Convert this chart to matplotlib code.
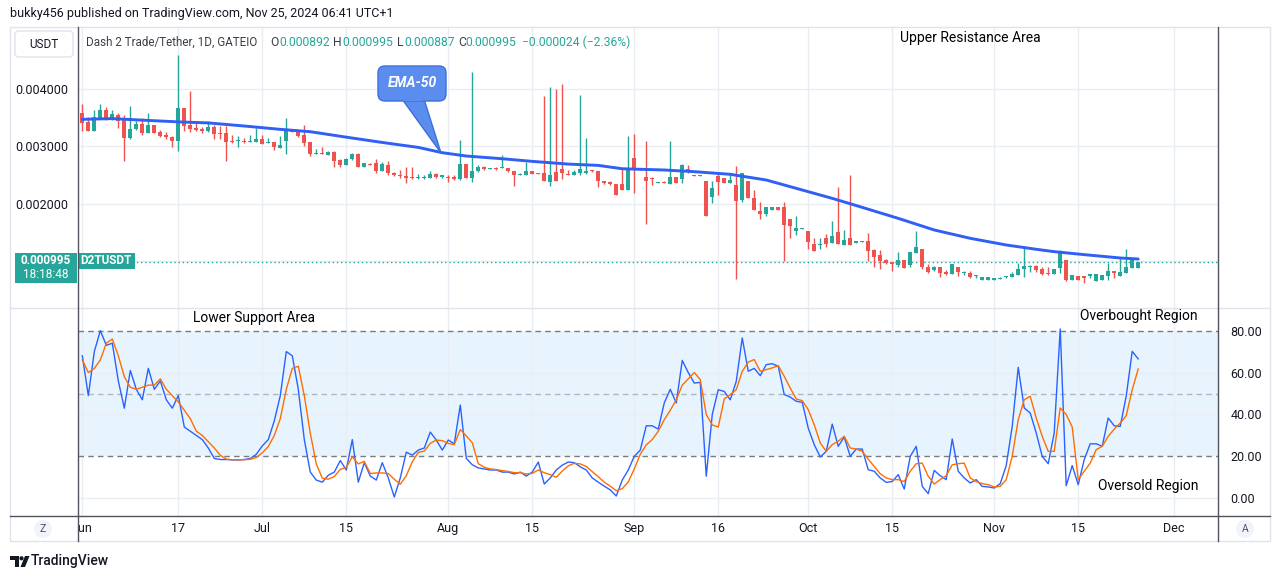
import numpy as np
import matplotlib
matplotlib.use("Agg")
import matplotlib.pyplot as plt
from matplotlib.patches import FancyBboxPatch, Polygon, Rectangle, Circle

plt.rcParams['font.family'] = ['Roboto', 'DejaVu Sans']

W, H = 1281, 579

# Daily D2T/USDT candles, bar 0 = Jun 1 (one bar missing mid-Sep), prices in 1e-6 USDT
opens = [3582, 3431, 3274, 3489, 3634, 3477, 3547, 3472, 3153, 3303,
         3390, 3240, 3373, 3251, 3199, 3164, 3100, 3669, 3373, 3321,
         3309, 3269, 3332, 3240, 3234, 3100, 3089, 3100, 3071, 3083,
         3129, 3054, 3077, 2979, 3100, 3280, 3263, 3199, 3077, 2874,
         2886, 2857, 2903, 2764, 2677, 2776, 2868, 2648, 2694, 2706,
         2578, 2683, 2544, 2509, 2486, 2474, 2451, 2457, 2451, 2520,
         2474, 2474, 2474, 2428, 2694, 2451, 2567, 2648, 2607, 2625,
         2619, 2625, 2578, 2509, 2509, 2573, 2532, 2544, 2381, 2555,
         2602, 2520, 2509, 2544, 2532, 2578, 2567, 2393, 2381, 2346,
         2346, 2242, 2799, 2613, 2469, 2440, 2371, 2371, 2353, 2469,
         2440, 2603, 2504, 2492, 2400, 2127, 2487, 2452, 2371, 2330,
         2069, 2400, 2104, 1883, 1831, 1901, 1941, 1941, 1733, 1535,
         1570, 1530, 1298, 1291, 1408, 1327, 1512, 1292, 1408, 1327,
         1344, 1350, 1199, 1112, 1025, 996, 944, 1026, 945, 1153,
         1217, 910, 852, 904, 823, 782, 904, 794, 806, 753,
         678, 678, 684, 701, 724, 724, 771, 875, 910, 916,
         869, 806, 782, 893, 1026, 678, 753, 748, 748, 666,
         678, 748, 835, 748, 806, 893, 892]
highs = [3738, 3518, 3634, 3738, 3686, 3634, 3576, 3547, 3704, 3448,
         3489, 3582, 3373, 3286, 3245, 3182, 4591, 3669, 3965, 3402,
         3344, 3443, 3379, 3356, 3356, 3199, 3182, 3141, 3199, 3327,
         3199, 3147, 3077, 3182, 3489, 3303, 3286, 3367, 3077, 2955,
         2990, 2921, 2921, 2776, 2793, 2892, 2880, 2712, 2706, 2787,
         2729, 2752, 2561, 2590, 2636, 2648, 2520, 2509, 2578, 2532,
         2509, 2497, 2497, 3112, 2694, 4295, 2683, 2660, 2625, 2648,
         2851, 2625, 2578, 2532, 2729, 2578, 2538, 3878, 4028, 3994,
         4086, 2590, 2590, 3901, 3147, 2584, 2567, 2404, 2393, 2346,
         2602, 3181, 3216, 2619, 3096, 2475, 2388, 2394, 3100, 2475,
         2690, 2672, 2504, 2498, 2400, 2400, 2533, 2458, 2533, 2661,
         2533, 2400, 2243, 2034, 1941, 1941, 1941, 2040, 1733, 1791,
         1582, 1530, 1402, 1402, 1477, 1704, 2301, 1547, 2504, 1361,
         1356, 1489, 1222, 1199, 1037, 996, 1164, 1026, 1165, 1531,
         1217, 956, 922, 904, 852, 956, 904, 840, 829, 765,
         724, 724, 713, 736, 742, 823, 980, 1270, 939, 933,
         898, 904, 869, 1200, 1026, 765, 753, 748, 782, 777,
         765, 980, 835, 1061, 1217, 1026, 995]
lows = [3274, 3268, 3268, 3489, 3460, 3460, 3327, 2752, 3135, 3286,
        3199, 3240, 3240, 3170, 3129, 2996, 2926, 3274, 3245, 3269,
        3228, 3245, 3135, 3124, 2752, 3054, 2996, 3054, 3071, 3071,
        3048, 3054, 2938, 2979, 2874, 3257, 3170, 3013, 2839, 2874,
        2874, 2857, 2648, 2636, 2677, 2764, 2640, 2648, 2671, 2532,
        2578, 2503, 2486, 2445, 2358, 2439, 2439, 2439, 2451, 2451,
        2451, 2381, 2416, 2416, 2445, 2387, 2555, 2590, 2602, 2590,
        2619, 2555, 2312, 2503, 2509, 2520, 2515, 2404, 2312, 2404,
        2439, 2497, 2497, 2509, 2520, 2561, 2300, 2346, 2335, 2149,
        2242, 2242, 2184, 2596, 1651, 2324, 2365, 2359, 2353, 2359,
        2359, 2533, 2492, 2492, 1791, 2011, 2156, 2365, 2371, 700,
        2040, 2110, 1895, 1744, 1796, 1901, 1901, 1013, 1414, 1466,
        1570, 1222, 1187, 1222, 1257, 1327, 1303, 1292, 1292, 1327,
        1344, 1013, 897, 874, 955, 839, 897, 893, 910, 1153,
        875, 806, 840, 736, 759, 782, 753, 771, 707, 719,
        678, 678, 684, 690, 719, 724, 771, 736, 823, 823,
        765, 771, 782, 794, 661, 678, 678, 620, 719, 666,
        678, 678, 713, 748, 806, 887, 887]
closes = [3414, 3274, 3512, 3634, 3489, 3564, 3448, 3153, 3303, 3390,
          3240, 3373, 3240, 3187, 3164, 3100, 3669, 3361, 3303, 3286,
          3274, 3332, 3216, 3222, 3083, 3083, 3100, 3083, 3095, 3129,
          3048, 3077, 2996, 3025, 3286, 3257, 3187, 3066, 2874, 2886,
          2874, 2903, 2747, 2677, 2781, 2868, 2648, 2706, 2683, 2578,
          2694, 2532, 2497, 2486, 2451, 2451, 2474, 2474, 2520, 2462,
          2497, 2457, 2428, 2694, 2451, 2567, 2648, 2602, 2619, 2607,
          2630, 2567, 2509, 2520, 2578, 2526, 2520, 2404, 2497, 2404,
          2544, 2509, 2555, 2602, 2578, 2567, 2404, 2358, 2346, 2161,
          2242, 2613, 2613, 2602, 2405, 2429, 2382, 2359, 2469, 2359,
          2678, 2556, 2492, 2498, 1791, 2272, 2382, 2371, 2417, 2057,
          2533, 2110, 1895, 1831, 1941, 1941, 1901, 1640, 1617, 1582,
          1582, 1344, 1187, 1303, 1309, 1443, 1303, 1373, 1292, 1361,
          1356, 1187, 1083, 1013, 979, 961, 1025, 893, 1165, 1246,
          910, 823, 898, 806, 782, 956, 823, 806, 736, 765,
          724, 724, 713, 718, 736, 782, 869, 922, 922, 852,
          782, 777, 869, 1165, 678, 765, 678, 719, 782, 777,
          765, 835, 806, 811, 904, 1019, 995]

# EMA-50 read at a few bars
ema50_bars = [0, 5, 10, 16, 21, 27, 33, 38, 44, 50, 56, 60, 64, 70, 75, 81, 86, 90,
              97, 102, 108, 114, 119, 125, 130, 136, 142, 148, 154, 159, 162, 167, 173, 176]
ema50 = [3472, 3485, 3458, 3428, 3410, 3356, 3298, 3257, 3162, 3070, 2984, 2892, 2834,
         2787, 2741, 2694, 2671, 2613, 2591, 2562, 2516, 2417, 2272, 2098, 1941, 1750,
         1548, 1403, 1287, 1212, 1171, 1119, 1061, 1043]

# Stochastic %K (blue) and %D (orange)
stoch_k = [68, 49, 70, 80, 73, 74, 56, 43, 61, 52,
           47, 62, 52, 56, 47, 43, 49, 34, 32, 30,
           28, 24, 19, 18.5, 18.5, 18.3, 18.3, 18.5, 19, 21,
           25, 28, 37, 49, 70, 68, 52, 28, 12.5, 8.7,
           7.7, 11, 12.5, 18, 13.5, 28, 7.7, 17, 10.6, 8.7,
           17, 9.7, 0.6, 9.7, 22, 20.6, 23, 24, 31.6, 27.8,
           23, 27.8, 26, 44.5, 19, 16, 14.5, 14, 13.5, 13.5,
           12.5, 12.5, 11.6, 12.5, 10.6, 12.5, 17.3, 6.8, 9.7, 13.5,
           15.8, 17.3, 17, 15, 13.5, 9.7, 7.7, 5.8, 4, 1.1,
           8.7, 13.5, 20, 23, 34.6, 34.6, 33, 45.5, 52, 45.5,
           65.8, 60, 55, 55.3, 10.5, 40, 51.8, 51, 47, 55.8,
           76.5, 60.6, 62, 58.5, 63.8, 64.2, 63, 49.5, 48.3, 46.3,
           45.8, 33.5, 25.6, 19.7, 22.4, 35.4, 24.8, 29.2, 20, 23.5,
           23.5, 13.6, 12.9, 9.7, 7.6, 8, 11.3, 4.4, 20, 24.8,
           5.7, 2.2, 13.3, 10.8, 8.9, 28.3, 12.9, 9.7, 7.3, 8.9,
           5.7, 5.4, 4.9, 7, 15.6, 34.3, 62.5, 43.1, 40.7, 31.2,
           20, 16.5, 31.2, 80.8, 6, 15.6, 6.5, 18.4, 26, 26,
           24.8, 38.3, 34.6, 34.3, 48.7, 70.1, 66.5]
stoch_d = [66, 60, 62, 66, 74, 76, 68, 58, 53, 52,
           53, 54, 54, 57, 52, 49, 46, 42, 38, 32,
           30, 27, 24, 20.5, 18.7, 18.4, 18.4, 18.4, 18.6, 19.5,
           21.7, 24.7, 30, 38, 52, 62, 63, 49, 31, 16.4,
           9.6, 9.1, 10.4, 13.8, 14.7, 19.8, 16.4, 17.6, 11.8, 12.1,
           12.1, 11.8, 9.1, 6.7, 10.8, 17.4, 21.9, 22.5, 26.2, 27.8,
           27.5, 26.2, 25.6, 32.8, 29.8, 26.5, 16.5, 14.8, 14, 13.7,
           13.2, 12.8, 12.2, 12.2, 11.6, 11.9, 13.5, 12.2, 11.3, 10,
           13, 15.5, 16.7, 16.4, 15.2, 12.7, 10.3, 7.7, 5.8, 3.6,
           4.6, 7.8, 14, 21, 25.5, 28, 32, 37.5, 42, 47,
           54, 57, 60, 56.6, 40, 35, 34, 47.4, 49.5, 51.8,
           60.6, 65, 66.2, 60.6, 61.4, 62.2, 63.3, 58.2, 52.6, 47.4,
           46.6, 42.3, 35.1, 26.4, 22.4, 25.6, 27.2, 29.6, 24, 23.5,
           22.4, 18.7, 15.2, 11.7, 9.7, 8.9, 8.9, 8, 12.9, 16.5,
           16.8, 10.5, 6.8, 8.9, 10.8, 16, 16.5, 16.8, 9.7, 8,
           7, 6.5, 5.4, 5.7, 8.9, 20, 37.5, 47, 48.7, 38.3,
           29.6, 22.4, 22.4, 43.1, 40, 34, 8.9, 12.9, 16.8, 23.2,
           24.8, 29.6, 33, 35.9, 39.4, 51.8, 61.7]

tick_bars = [0, 16, 30, 44, 61, 75, 92, 106, 121, 135, 152, 166, 182]
tick_labels = ['Jun', '17', 'Jul', '15', 'Aug', '15', 'Sep', '16', 'Oct', '15', 'Nov', '15', 'Dec']
price_ticks = [0.001, 0.002, 0.003, 0.004]
price_labels = ['', '0.002000', '0.003000', '0.004000']
stoch_ticks = [0, 20, 40, 60, 80]
stoch_labels = ['0.00', '20.00', '40.00', '60.00', '80.00']
last_price = 0.000995

UP, DOWN = '#26a69a', '#ef5350'
GRID = '#e8edf3'
TXT = '#131722'

o = np.array(opens) * 1e-6
h = np.array(highs) * 1e-6
l = np.array(lows) * 1e-6
c = np.array(closes) * 1e-6
x = np.arange(len(o))
colors = np.where(c >= o, UP, DOWN)


def box(x0, y0, x1, y1):
    return [x0 / W, 1 - y1 / H, (x1 - x0) / W, (y1 - y0) / H]


fig = plt.figure(figsize=(W / 100, H / 100), dpi=100)
fig.patch.set_facecolor('white')

ax = fig.add_axes(box(78, 27, 1218, 308))
ax2 = fig.add_axes(box(78, 308, 1218, 516), sharex=ax)
axt = fig.add_axes(box(78, 516, 1218, 541), sharex=ax)

# main pane
for b in tick_bars:
    ax.axvline(b, color=GRID, lw=1, zorder=0)
    ax2.axvline(b, color=GRID, lw=1, zorder=0.5)
for p in price_ticks:
    ax.axhline(p, color=GRID, lw=1, zorder=0)

ax.axhline(last_price, color=UP, lw=1, ls=(0, (1, 2)), zorder=1)
ax.vlines(x, l, h, colors=colors, lw=1, zorder=2)
ax.bar(x, np.maximum(np.abs(c - o), 1.6e-5), bottom=np.minimum(o, c), width=0.68,
       color=colors, lw=0, zorder=3)
ax.plot(ema50_bars, np.array(ema50) * 1e-6, color='#2f5ff5', lw=2.1, zorder=4,
        solid_capstyle='round', solid_joinstyle='round')

ax.set_xlim(-0.72, 189.3)
ax.set_ylim(0.000191, 0.005078)
ax.set_yticks(price_ticks)
ax.set_yticklabels(price_labels)
ax.tick_params(axis='y', length=0, pad=7, labelsize=9, labelcolor=TXT)
ax.tick_params(axis='x', bottom=False, labelbottom=False)
for s in ax.spines.values():
    s.set_visible(False)

# stochastic pane
ax2.axhspan(20, 80, color='#e8f4fd', lw=0, zorder=0)
for v in [0, 40, 60]:
    ax2.axhline(v, color=GRID, lw=1, zorder=0.5)
ax2.axhline(80, color='#787b86', lw=1, ls=(0, (4, 3)), zorder=1)
ax2.axhline(50, color='#b2b5be', lw=1, ls=(0, (4, 3)), zorder=1)
ax2.axhline(20, color='#787b86', lw=1, ls=(0, (4, 3)), zorder=1)
ax2.plot(x, stoch_k, color='#2962ff', lw=1, zorder=3)
ax2.plot(x, stoch_d, color='#ff6d00', lw=1, zorder=4)
ax2.set_ylim(-8.45, 90.8)
ax2.yaxis.tick_right()
ax2.set_yticks(stoch_ticks)
ax2.set_yticklabels(stoch_labels)
ax2.tick_params(axis='y', length=0, pad=9, labelsize=9, labelcolor=TXT)
ax2.tick_params(axis='x', bottom=False, labelbottom=False)
for s in ax2.spines.values():
    s.set_visible(False)

# time axis
axt.axis('off')
for b, lab in zip(tick_bars, tick_labels):
    axt.text(b, 0.5, lab, transform=axt.get_xaxis_transform(), ha='center', va='center',
             fontsize=9, color=TXT, clip_on=True)

# overlay in pixel coordinates
ov = fig.add_axes([0, 0, 1, 1])
ov.set_xlim(0, W)
ov.set_ylim(H, 0)
ov.axis('off')
ov.set_zorder(10)
ov.patch.set_alpha(0)

ov.add_patch(Rectangle((10, 27), 1260, 514, fill=False, ec='#e0e3eb', lw=1))
ov.plot([10, 1270], [308, 308], color='#e0e3eb', lw=1)
ov.plot([10, 1270], [516, 516], color='#50535e', lw=1)
ov.plot([78, 78], [27, 541], color='#50535e', lw=1)
ov.plot([1218, 1218], [27, 541], color='#50535e', lw=1)

ov.text(10, 13, 'bukky456 published on TradingView.com, Nov 25, 2024 06:41 UTC+1',
        fontsize=9, color=TXT, va='center', ha='left')

# legend line
ov.add_patch(FancyBboxPatch((15, 31), 58, 26, boxstyle='round,pad=0,rounding_size=4',
                            fc='white', ec='#e0e3eb', lw=1))
ov.text(44, 44, 'USDT', fontsize=8.5, color=TXT, ha='center', va='center')
ov.text(86, 42, 'Dash 2 Trade/Tether, 1D, GATEIO', fontsize=8.4, color='#3b3e48', va='center')
for px, letter, val in [(270, 'O', '0.000892'), (333, 'H', '0.000995'),
                        (397, 'L', '0.000887'), (458, 'C', '0.000995')]:
    ov.text(px, 42, letter, fontsize=8.7, color='#3b3e48', va='center')
    ov.text(px + (9 if letter in 'OH' else 7), 42, val, fontsize=8.7, color=UP, va='center')
ov.text(522, 42, '\u22120.000024 (\u22122.36%)', fontsize=8.7, color=UP, va='center')

# EMA-50 callout
ov.add_patch(Polygon([(402, 99), (424, 99), (441, 153)], closed=True, fc='#5b8def',
                     ec='#3d6fdc', lw=1, zorder=1))
ov.add_patch(FancyBboxPatch((378, 66), 68, 35, boxstyle='round,pad=0,rounding_size=7',
                            fc='#5b8def', ec='#3d6fdc', lw=1, zorder=2))
ov.add_patch(Rectangle((403, 97), 20, 4, fc='#5b8def', lw=0, zorder=3))
ov.text(412, 83, 'EMA-50', fontsize=10, color='white', style='italic', weight='bold',
        ha='center', va='center', zorder=4)

# last price labels
ov.add_patch(Rectangle((15, 253), 62, 30, fc=UP, lw=0))
ov.text(46, 261, '0.000995', fontsize=8.5, color='white', weight='bold', ha='center', va='center')
ov.text(46, 275, '18:18:48', fontsize=8.5, color='white', ha='center', va='center')
ov.add_patch(Rectangle((78, 253), 57, 16, fc=UP, lw=0))
ov.text(106, 261, 'D2TUSDT', fontsize=8.5, color='white', weight='bold', ha='center', va='center')

# annotations
ov.text(900, 38, 'Upper Resistance Area', fontsize=10, color='black', va='center')
ov.text(193, 318, 'Lower Support Area', fontsize=10, color='black', va='center')
ov.text(1080, 316, 'Overbought Region', fontsize=10, color='black', va='center')
ov.text(1098, 486, 'Oversold Region', fontsize=10, color='black', va='center')

# corner buttons
for cx, lab in [(43, 'Z'), (1245, 'A')]:
    ov.add_patch(Circle((cx, 529), 9, fc='#f0f3fa', lw=0))
    ov.text(cx, 529, lab, fontsize=7.5, color='#50535e', ha='center', va='center')

# footer logo
ov.add_patch(Polygon([(10, 556), (19, 556), (19, 567), (15, 567), (15, 560), (10, 560)],
                     closed=True, fc=TXT, lw=0))
ov.add_patch(Circle((21.5, 558.3), 2.1, fc=TXT, lw=0))
ov.add_patch(Polygon([(25, 556), (29.5, 556), (25, 567), (20.5, 567)], closed=True, fc=TXT, lw=0))
ov.text(31, 561.5, 'TradingView', fontsize=10, color=TXT, weight='medium', va='center')

fig.savefig('out.png', dpi=100, facecolor='white')
